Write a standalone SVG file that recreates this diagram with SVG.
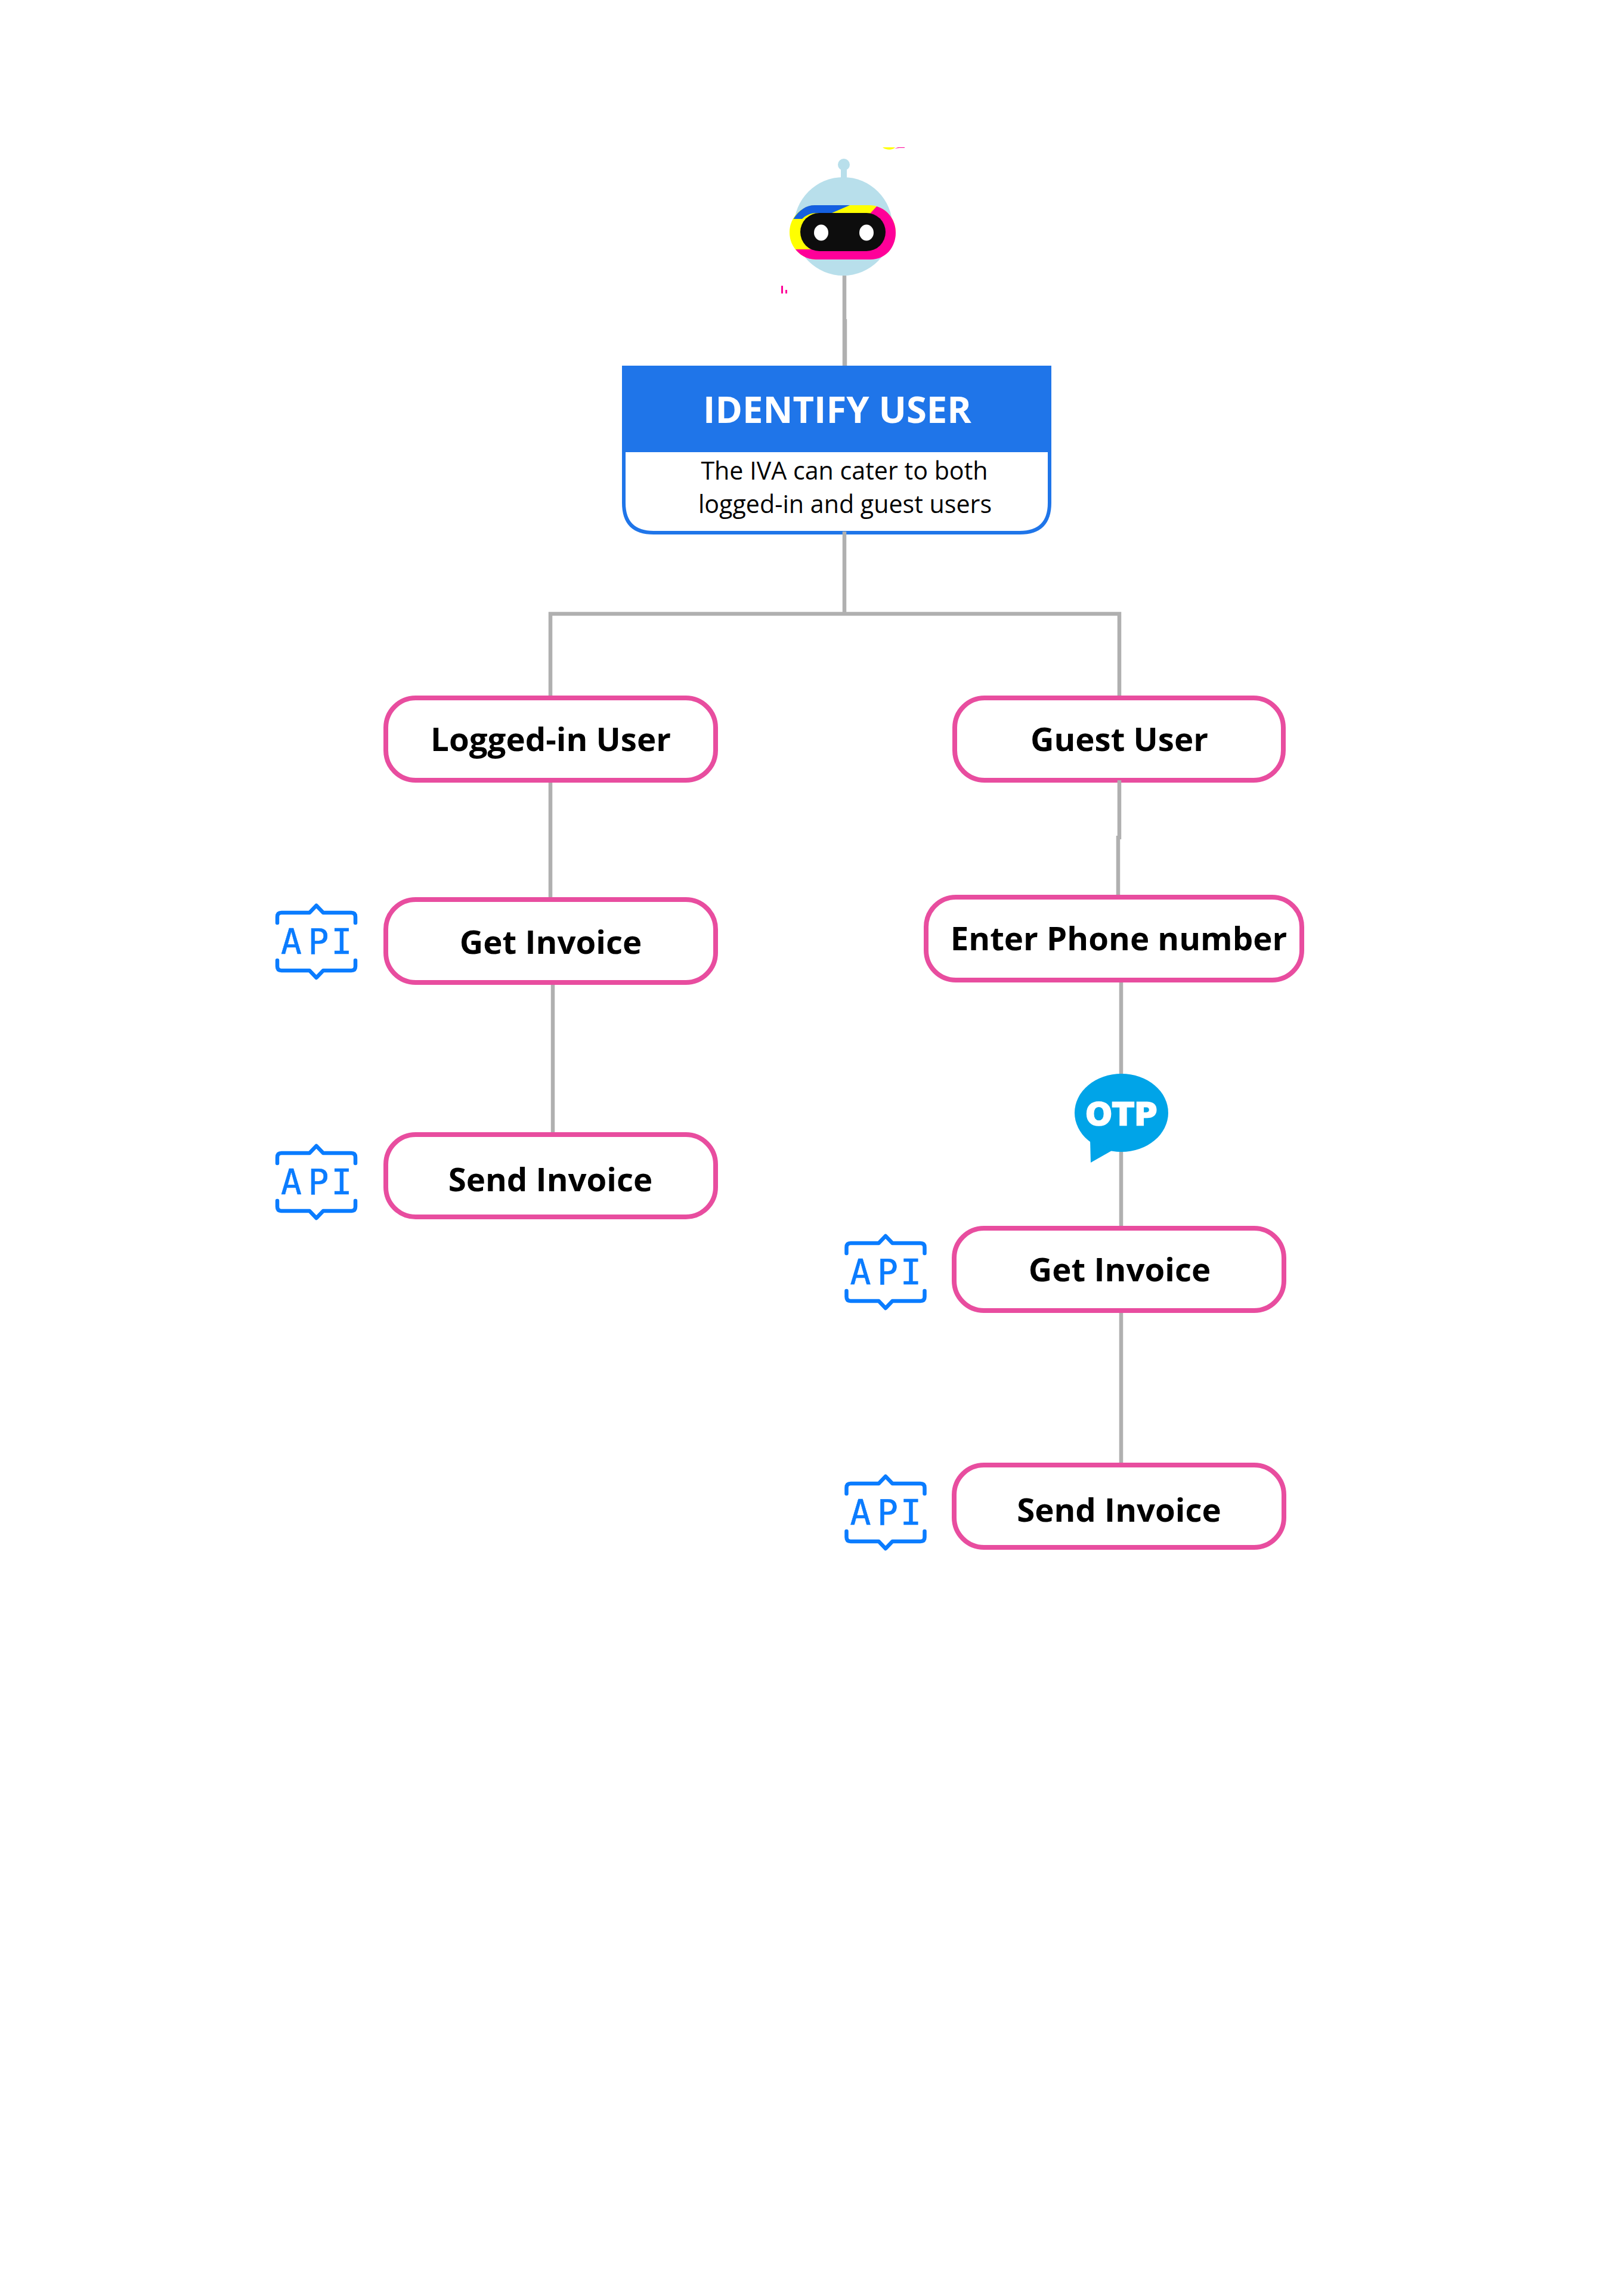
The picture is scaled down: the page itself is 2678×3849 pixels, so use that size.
<svg xmlns="http://www.w3.org/2000/svg" xmlns:xlink="http://www.w3.org/1999/xlink" width="2678" height="3849" viewBox="0 0 2678 3849">
<style>
.box{fill:#fff;stroke:#e84d9f;stroke-width:8}
.lbl{font-family:"Open Sans","Noto Sans",sans-serif;font-weight:700;font-size:54.6px;fill:#000;text-anchor:middle}
.line{fill:none;stroke:#b0b0b0;stroke-width:6.5}
.br{fill:none;stroke:#0a7cff;stroke-width:6.5;stroke-linecap:round;stroke-linejoin:round}
.api{font-family:"DejaVu Sans Mono",monospace;font-size:58px;fill:#0a7cff;stroke:#0a7cff;stroke-width:.6;text-anchor:middle}
</style>
<defs>
<path id="brackets" class="br" d="M465 1547V1537Q465 1530 472 1530H519L530.5 1518L542 1530H589Q596 1530 596 1537V1547M465 1610V1620Q465 1627 472 1627H519L530.5 1639L542 1627H589Q596 1627 596 1620V1610"/>
</defs>
<rect width="2678" height="3849" fill="#fff"/>
<g id="node-identify">
<path d="M1046 616H1760V843Q1760 893 1710 893H1096Q1046 893 1046 843Z" fill="#fff" stroke="#1f75e9" stroke-width="6"/>
<rect x="1043" y="613" width="720" height="145" fill="#1f75e9"/>
<text x="1404" y="709" style="font-family:'Open Sans','Noto Sans',sans-serif;font-weight:700;font-size:61.5px;fill:#fff;text-anchor:middle">IDENTIFY USER</text>
<text style="font-family:'Open Sans','Noto Sans',sans-serif;font-size:41.2px;fill:#000;text-anchor:middle"><tspan x="1416" y="804">The IVA can cater to both</tspan><tspan x="1417" y="860">logged-in and guest users</tspan></text>
</g>
<g id="node-logged"><rect class="box" x="647" y="1170" width="553" height="138" rx="50"/><text class="lbl" x="923.5" y="1259">Logged-in User</text></g>
<g id="node-guest"><rect class="box" x="1601" y="1170" width="551" height="138" rx="50"/><text class="lbl" x="1877" y="1259">Guest User</text></g>
<g id="node-get-left"><rect class="box" x="647" y="1508" width="553" height="139" rx="50"/><text class="lbl" x="923.5" y="1599">Get Invoice</text></g>
<g id="node-send-left"><rect class="box" x="647" y="1902" width="553" height="138" rx="50"/><text class="lbl" x="923" y="1997">Send Invoice</text></g>
<g id="node-phone"><rect class="box" x="1553" y="1504" width="630" height="139" rx="50"/><text class="lbl" x="1876" y="1593">Enter Phone number</text></g>
<g id="node-get-right"><rect class="box" x="1600" y="2059" width="553" height="138" rx="50"/><text class="lbl" x="1877.5" y="2148">Get Invoice</text></g>
<g id="node-send-right"><rect class="box" x="1600" y="2456" width="553" height="138" rx="50"/><text class="lbl" x="1876.5" y="2551">Send Invoice</text></g>
<g id="connectors">
<path class="line" d="M1416 462V613"/>
<path class="line" d="M1417 535V613"/>
<path class="line" d="M1416 891V1029"/>
<path class="line" d="M923 1166V1029H1877V1166"/>
<path class="line" d="M923 1312V1504"/>
<path class="line" d="M927 1651V1898"/>
<path class="line" d="M1877 1308V1407"/>
<path class="line" d="M1875 1401V1500"/>
<path class="line" d="M1880 1647V2055"/>
<path class="line" d="M1880 2201V2452"/>
</g>
<g id="node-robot">
<circle cx="1415" cy="276" r="10" fill="#b8dfeb"/><rect x="1410" y="280" width="10" height="22" fill="#b8dfeb"/>
<circle cx="1414" cy="379.5" r="82.5" fill="#b8dfeb"/>
<rect x="1324" y="344" width="178" height="91" rx="45" fill="#ffff00"/>
<path d="M1330.5 367C1340 352 1352 344 1366 344H1425L1395 357H1370C1358 357 1350 362 1345 367Z" fill="#1560e0"/>
<path d="M1470 346C1490 352 1502 370 1502 390C1502 415 1485 435 1460 435H1368C1352 435 1340 426 1334 418H1357L1400 410L1470 390L1460 357Z" fill="#ff0099"/>
<rect x="1342" y="357" width="143" height="64" rx="32" fill="#0d0d0d"/>
<ellipse cx="1377" cy="390" rx="12" ry="13.5" fill="#fff"/><ellipse cx="1453" cy="390" rx="12" ry="13.5" fill="#fff"/>
<path d="M1480 247H1501C1497 252 1486 252 1480 247Z" fill="#ffff00"/>
<path d="M1500 249L1506 247H1517V248H1508Z" fill="#ff0099"/>
<path d="M1310 479H1313V492H1310ZM1317 486H1320V492H1317Z" fill="#ff0099"/>
</g>
<g id="node-otp">
<ellipse cx="1880.5" cy="1865.5" rx="78.5" ry="65.5" fill="#00a4e8"/>
<path d="M1828 1910L1829 1949L1866 1928Z" fill="#00a4e8"/>
<text x="1881" y="1886" style="font-family:'DejaVu Sans',sans-serif;font-weight:700;font-size:52px;letter-spacing:1px;fill:#fff;stroke:#fff;stroke-width:2.5;text-anchor:middle">OTP</text>
</g>
<g id="api-1"><use href="#brackets"/><text class="api" x="488.5 534 573" y="1599">API</text></g>
<g id="api-2" transform="translate(0 403)"><use href="#brackets"/><text class="api" x="488.5 534 573" y="1599">API</text></g>
<g id="api-3" transform="translate(954.5 554)"><use href="#brackets"/><text class="api" x="488.5 534 573" y="1599">API</text></g>
<g id="api-4" transform="translate(954.5 957)"><use href="#brackets"/><text class="api" x="488.5 534 573" y="1599">API</text></g>
</svg>
